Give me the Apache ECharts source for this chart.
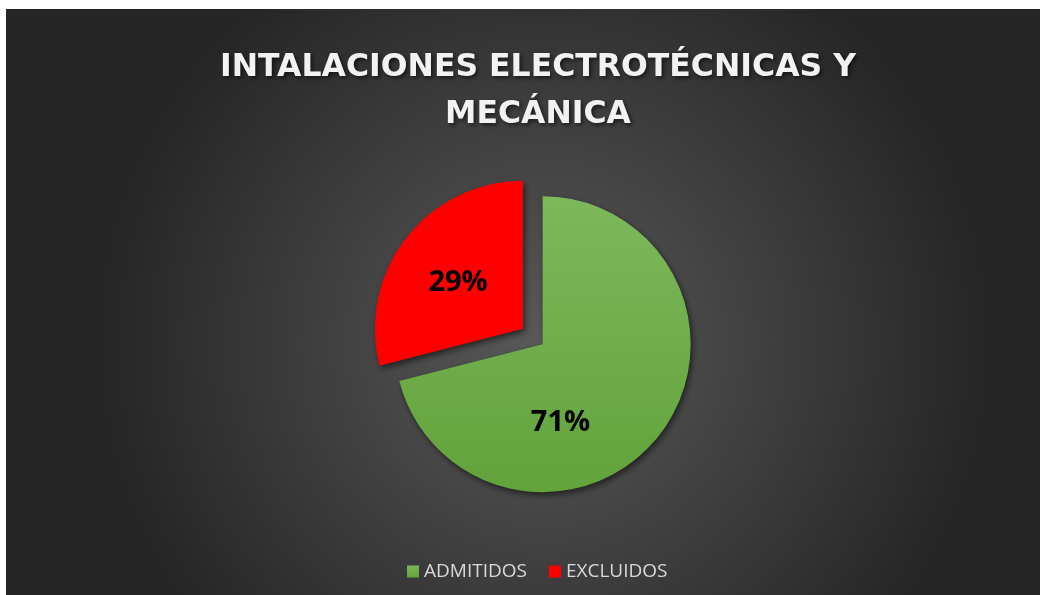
<!DOCTYPE html>
<html>
<head>
<meta charset="utf-8">
<script src="https://cdn.jsdelivr.net/npm/echarts@6/dist/echarts.min.js"></script>
<style>
    html, body { margin: 0; padding: 0; background: #ffffff; }
    #chart {
        position: absolute;
        left: 6px;
        top: 9px;
        width: 1034px;
        height: 586px;
    }
</style>
</head>
<body>
<div id="chart"></div>
<script>
// datos del gráfico
var titulo = 'INTALACIONES ELECTROTÉCNICAS Y\nMECÁNICA';
var categorias = ['ADMITIDOS', 'EXCLUIDOS'];
var valores = [71, 29];
var colores = ['#6aad45', '#ff0000'];

var chart = echarts.init(document.getElementById('chart'));

var datos = categorias.map(function (c, i) {
    return {
        name: c,
        value: valores[i],
        selected: i === 1,
        itemStyle: {
            color: i === 0 ? new echarts.graphic.LinearGradient(0, 0, 0, 1, [
                { offset: 0, color: '#7db85b' },
                { offset: 1, color: '#62a33a' }
            ]) : colores[i]
        }
    };
});

var option = {
    backgroundColor: new echarts.graphic.RadialGradient(0.52, 0.57, 0.75, [
        { offset: 0, color: '#595959' },
        { offset: 1, color: '#262626' }
    ]),
    title: {
        text: titulo,
        left: 527,
        textAlign: 'center',
        top: 30,
        textStyle: {
            fontFamily: 'DejaVu Sans',
            fontWeight: 'bold',
            fontSize: 31.5,
            lineHeight: 47,
            color: '#f2f2f2',
            textShadowColor: 'rgba(0,0,0,0.6)',
            textShadowBlur: 4,
            textShadowOffsetX: 2,
            textShadowOffsetY: 2
        }
    },
    legend: {
        data: categorias,
        bottom: 9,
        left: 396,
        icon: 'rect',
        itemWidth: 12,
        itemHeight: 12,
        itemGap: 22,
        textStyle: {
            fontFamily: 'Open Sans',
            fontSize: 19,
            color: '#d9d9d9'
        }
    },
    series: [{
        type: 'pie',
        center: ['51.9%', '57.2%'],
        radius: 148,
        startAngle: 90,
        clockwise: true,
        selectedMode: 'single',
        selectedOffset: 25,
        animation: false,
        label: {
            position: 'inner',
            formatter: '{d}%',
            fontFamily: 'Open Sans',
            fontWeight: 'bold',
            fontSize: 29,
            color: '#000000'
        },
        labelLayout: function (params) {
            if (params.dataIndex === 0) {
                return { dx: -43, dy: 31 };
            }
            return { dx: -4, dy: 1 };
        },
        emphasis: { disabled: true },
        itemStyle: {
            shadowColor: 'rgba(0,0,0,0.55)',
            shadowBlur: 6,
            shadowOffsetX: 2,
            shadowOffsetY: 3
        },
        data: datos
    }]
};

chart.setOption(option);
</script>
</body>
</html>
